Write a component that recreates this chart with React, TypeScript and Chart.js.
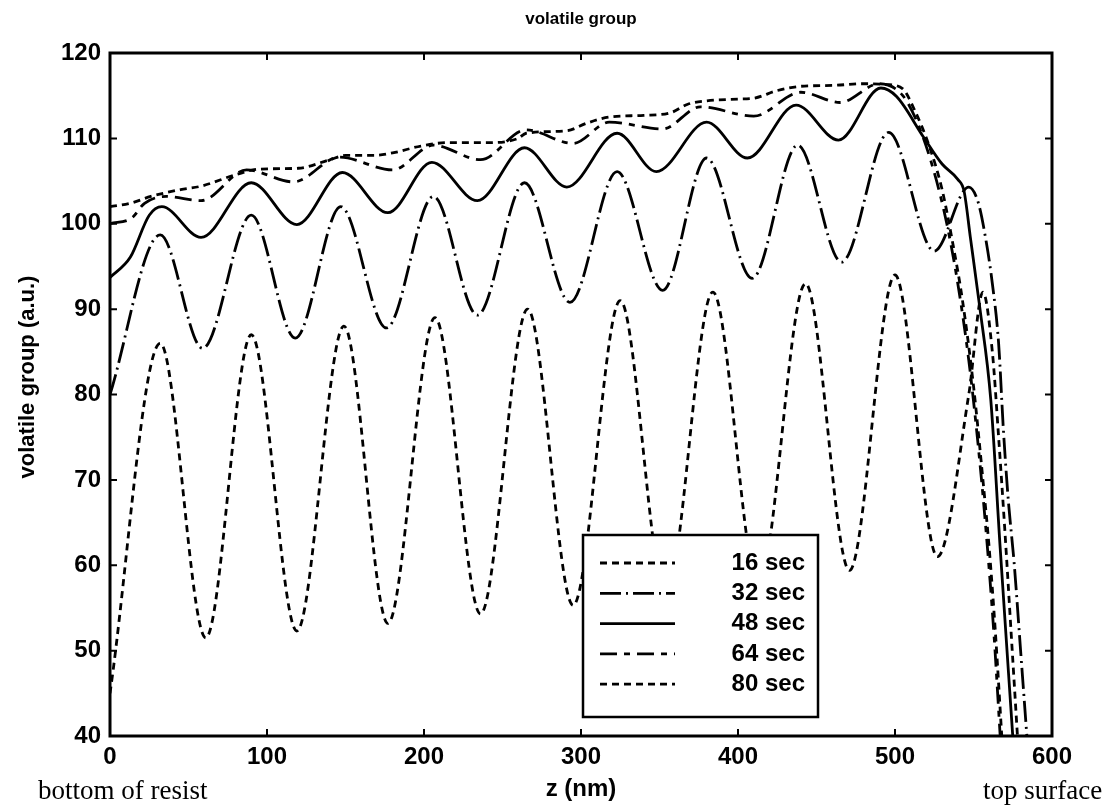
import React, { useEffect, useRef } from "react";
import { Chart, registerables } from "chart.js";

Chart.register(...registerables);

const TITLE = "volatile group";
const X_LABEL = "z (nm)";
const Y_LABEL = "volatile group (a.u.)";
const LEFT_NOTE = "bottom of resist";
const RIGHT_NOTE = "top surface";
const SERIES = ["16 sec", "32 sec", "48 sec", "64 sec", "80 sec"];
const X_TICKS = [0, 100, 200, 300, 400, 500, 600];
const Y_TICKS = [40, 50, 60, 70, 80, 90, 100, 110, 120];

const z16 = [0, 32, 61, 90, 119, 149, 177, 207, 236, 266, 295, 325, 354, 384, 413, 443, 471, 500, 527, 547, 556, 562, 566, 570, 574, 578];
const v16 = [45, 86, 51.5, 87, 52.3, 88, 53.2, 89, 54.3, 90, 55.3, 91, 56.5, 92, 57.7, 93, 59.4, 94, 61, 80, 92, 85, 75, 64, 52, 40];

const z32 = [0, 32, 59, 90, 118, 147, 176, 206, 234, 264, 293, 323, 352, 380, 409, 438, 466, 496, 525, 547, 553, 558, 562, 566, 569, 572, 576, 580, 584];
const v32 = [80, 98.7, 85.4, 101, 86.6, 102, 87.8, 103.2, 89.3, 104.8, 90.8, 106.1, 92.2, 107.7, 93.6, 109.2, 95.5, 110.7, 96.8, 104.3, 102.5, 98, 93, 86, 76, 68, 60, 50, 40];

const z48 = [0, 13, 25, 33, 58, 90, 119, 148, 177, 205, 234, 264, 291, 323, 348, 380, 406, 437, 464, 491, 501, 518, 530, 540, 544, 548, 554, 561, 567, 575];
const v48 = [93.7, 96.1, 101, 102, 98.4, 104.8, 99.9, 106, 101.3, 107.2, 102.7, 108.9, 104.3, 110.6, 106.1, 111.9, 107.7, 113.9, 109.8, 115.9, 114.9, 110.2, 107, 105.2, 103.8, 98.4, 90.2, 79.4, 62, 40];

const z64 = [0, 14, 22, 36, 58, 87, 117, 146, 180, 206, 236, 265, 295, 318, 352, 376, 410, 440, 465, 490, 505, 515, 525, 533, 540, 547, 553, 558, 563, 567];
const v64 = [100, 100.7, 102.4, 103.2, 102.7, 106.3, 104.9, 107.8, 106.3, 109.2, 107.5, 111, 109.4, 111.9, 111.1, 113.7, 112.6, 115.4, 114.2, 116.4, 115, 111.5, 106, 100, 93, 84, 74, 64, 52, 40];

const z80 = [0, 13, 26, 45, 58, 81, 95, 120, 140, 150, 168, 180, 198, 215, 240, 260, 265, 291, 304, 318, 340, 357, 368, 380, 400, 410, 425, 440, 460, 480, 495, 505, 512, 522, 530, 537, 543, 550, 556, 560, 564, 568];
const v80 = [102, 102.4, 103.2, 104, 104.4, 105.8, 106.4, 106.5, 107.5, 108, 108, 108.3, 109.1, 109.5, 109.5, 110, 110.6, 110.9, 111.8, 112.5, 112.7, 113, 114, 114.4, 114.6, 114.7, 115.6, 116.1, 116.2, 116.4, 116.3, 115.8, 113.5, 109, 104, 97.5, 91, 81, 70, 62, 52, 40];

const SERIES_Z = [z16, z32, z48, z64, z80];
const SERIES_V = [v16, v32, v48, v64, v80];
const DASHES: number[][] = [[7, 5], [21, 5, 2, 5], [], [17, 7, 6, 7], [7, 5]];

const SANS = "'Liberation Sans', Arial, sans-serif";
const SERIF = "'Liberation Serif', 'Times New Roman', serif";

const framePlugin = {
  id: "frame",
  afterDraw(chart: any) {
    const ctx = chart.ctx;
    const a = chart.chartArea;
    const xs = chart.scales.x;
    const ys = chart.scales.y;
    ctx.save();
    ctx.strokeStyle = "#000";
    ctx.lineWidth = 3;
    ctx.setLineDash([]);
    ctx.strokeRect(a.left, a.top, a.right - a.left, a.bottom - a.top);
    ctx.lineWidth = 2;
    const tl = 7;
    ctx.beginPath();
    for (const t of X_TICKS) {
      const p = xs.getPixelForValue(t);
      ctx.moveTo(p, a.bottom);
      ctx.lineTo(p, a.bottom - tl);
      ctx.moveTo(p, a.top);
      ctx.lineTo(p, a.top + tl);
    }
    for (const t of Y_TICKS) {
      const p = ys.getPixelForValue(t);
      ctx.moveTo(a.left, p);
      ctx.lineTo(a.left + tl, p);
      ctx.moveTo(a.right, p);
      ctx.lineTo(a.right - tl, p);
    }
    ctx.stroke();

    // legend
    const lx = 583, ly = 535, lw = 235, lh = 182;
    ctx.fillStyle = "#fff";
    ctx.fillRect(lx, ly, lw, lh);
    ctx.lineWidth = 2.5;
    ctx.strokeRect(lx, ly, lw, lh);
    ctx.font = `bold 24px ${SANS}`;
    ctx.fillStyle = "#000";
    ctx.textAlign = "right";
    ctx.textBaseline = "middle";
    SERIES.forEach((name, i) => {
      const y = ly + 28 + i * 30.3;
      ctx.lineWidth = 2.8;
      ctx.setLineDash(DASHES[i]);
      ctx.beginPath();
      ctx.moveTo(600, y);
      ctx.lineTo(675, y);
      ctx.stroke();
      ctx.setLineDash([]);
      ctx.fillText(name, 805, y);
    });

    // texts
    const cx = (a.left + a.right) / 2;
    ctx.textAlign = "center";
    ctx.textBaseline = "middle";
    ctx.font = `bold 17px ${SANS}`;
    ctx.fillText(TITLE, cx, 19);
    ctx.font = `bold 24px ${SANS}`;
    ctx.fillText(X_LABEL, cx, 789);
    ctx.save();
    ctx.translate(28, 377);
    ctx.rotate(-Math.PI / 2);
    ctx.font = `bold 22px ${SANS}`;
    ctx.fillText(Y_LABEL, 0, 0);
    ctx.restore();
    ctx.font = `27px ${SERIF}`;
    ctx.textBaseline = "alphabetic";
    ctx.textAlign = "left";
    ctx.fillText(LEFT_NOTE, 38, 799);
    ctx.fillText(RIGHT_NOTE, 983, 799);
    ctx.restore();
  },
};

export default function App() {
  const ref = useRef<HTMLCanvasElement>(null);
  useEffect(() => {
    if (!ref.current) return;
    const datasets = SERIES.map((name, i) => ({
      label: name,
      data: SERIES_Z[i].map((z, j) => ({ x: z, y: SERIES_V[i][j] })),
      borderColor: "#000",
      borderWidth: 2.8,
      borderDash: DASHES[i],
      pointRadius: 0,
      fill: false,
      cubicInterpolationMode: "monotone" as const,
    }));
    const chart = new Chart(ref.current, {
      type: "line",
      data: { datasets },
      plugins: [framePlugin],
      options: {
        animation: false,
        responsive: false,
        maintainAspectRatio: false,
        devicePixelRatio: 1,
        layout: { padding: { top: 53, right: 57, left: 0, bottom: 0 } },
        plugins: { legend: { display: false }, title: { display: false }, tooltip: { enabled: false } },
        scales: {
          x: {
            type: "linear",
            min: 0,
            max: 600,
            afterFit: (s: any) => { s.height = 76; },
            afterBuildTicks: (s: any) => { s.ticks = X_TICKS.map((v) => ({ value: v })); },
            grid: { display: false, drawTicks: false },
            border: { display: false },
            ticks: { color: "#000", font: { family: SANS, size: 24, weight: "bold" }, padding: 7, maxRotation: 0 },
          },
          y: {
            type: "linear",
            min: 40,
            max: 120,
            afterFit: (s: any) => { s.width = 110; },
            afterBuildTicks: (s: any) => { s.ticks = Y_TICKS.map((v) => ({ value: v })); },
            grid: { display: false, drawTicks: false },
            border: { display: false },
            ticks: { color: "#000", font: { family: SANS, size: 24, weight: "bold" }, padding: 9 },
          },
        },
      },
    });
    return () => chart.destroy();
  }, []);
  return (
    <div style={{ position: "fixed", left: 0, top: 0, width: 1109, height: 812, background: "#fff" }}>
      <canvas ref={ref} width={1109} height={812} style={{ width: 1109, height: 812, display: "block" }} />
    </div>
  );
}
